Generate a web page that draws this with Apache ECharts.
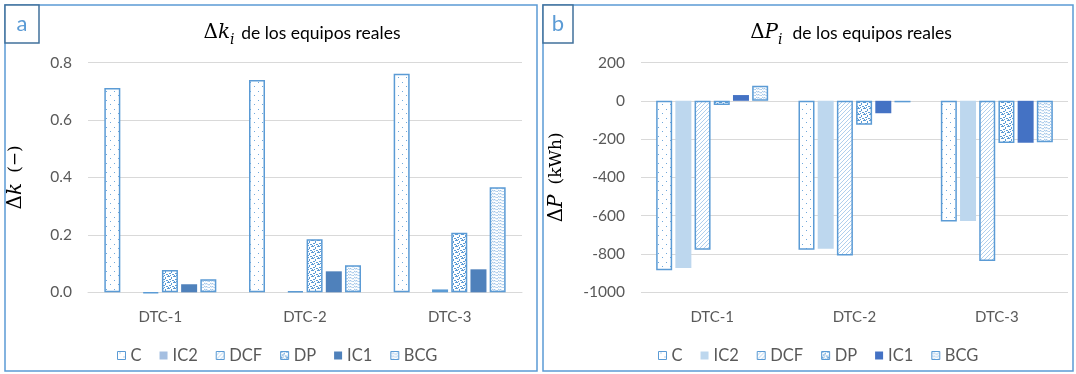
<!DOCTYPE html>
<html>
<head>
<meta charset="utf-8">
<script src="https://cdn.jsdelivr.net/npm/echarts@6/dist/echarts.min.js"></script>
<style>
html,body{margin:0;padding:0;background:#fff;}
#chart{width:1076px;height:374px;}
</style>
</head>
<body>
<div id="chart"></div>
<script>
// ---- data ----
const categories = ['DTC-1', 'DTC-2', 'DTC-3'];
const seriesNames = ['C', 'IC2', 'DCF', 'DP', 'IC1', 'BCG'];
// panel a: Δk (−)
const dk_C   = [0.711, 0.739, 0.761];
const dk_IC2 = [0, 0, 0];
const dk_DCF = [-0.003, 0.003, 0.010];
const dk_DP  = [0.078, 0.185, 0.207];
const dk_IC1 = [0.028, 0.073, 0.080];
const dk_BCG = [0.045, 0.094, 0.366];
// panel b: ΔP (kWh)
const dp_C   = [-885, -778, -630];
const dp_IC2 = [-873, -773, -628];
const dp_DCF = [-778, -808, -837];
const dp_DP  = [-22, -125, -220];
const dp_IC1 = [30, -65, -219];
const dp_BCG = [78, -8, -216];
// axis ticks
const dkAxis = {min: 0, max: 0.8, interval: 0.2};
const dpAxis = {min: -1000, max: 200, interval: 200};

// ---- patterns ----
const LINE = '#5b9bd5';
function tile(w, h, draw) {
  const c = document.createElement('canvas');
  c.width = w; c.height = h;
  const ctx = c.getContext('2d');
  ctx.fillStyle = '#ffffff';
  ctx.fillRect(0, 0, w, h);
  draw(ctx);
  return {image: c, repeat: 'repeat'};
}
function patC(col) {
  return tile(8, 9, ctx => {
    ctx.fillStyle = col;
    ctx.fillRect(2, 1, 1, 1);
    ctx.fillRect(6, 5, 1, 1);
  });
}
function patDCF(col) {
  return tile(4, 4, ctx => {
    ctx.strokeStyle = col; ctx.lineWidth = 0.8;
    ctx.beginPath();
    ctx.moveTo(-1, 5); ctx.lineTo(5, -1);
    ctx.moveTo(-1, 1); ctx.lineTo(1, -1);
    ctx.moveTo(3, 5); ctx.lineTo(5, 3);
    ctx.stroke();
  });
}
function patDP(col) {
  return tile(6, 6, ctx => {
    ctx.fillStyle = col;
    ctx.fillRect(0, 0, 2, 1);
    ctx.fillRect(3, 1, 1, 2);
    ctx.fillRect(1, 3, 2, 1);
    ctx.fillRect(4, 4, 2, 1);
    ctx.fillRect(5, 0, 1, 1);
    ctx.fillRect(0, 5, 1, 1);
    ctx.fillRect(2, 5, 1, 1);
  });
}
function patBCG(col) {
  return tile(6, 6, ctx => {
    ctx.strokeStyle = col; ctx.lineWidth = 0.8;
    ctx.beginPath();
    ctx.moveTo(0, 1); ctx.lineTo(1.5, 2); ctx.lineTo(3, 1.5); ctx.lineTo(4.5, 3); ctx.lineTo(6, 2.5);
    ctx.moveTo(0, 4); ctx.lineTo(1.5, 5); ctx.lineTo(3, 4.5); ctx.lineTo(4.5, 6); ctx.lineTo(6, 5.5);
    ctx.stroke();
  });
}

function styles(ic2, ic1) {
  const b = {borderColor: LINE, borderWidth: 1.5};
  return [
    Object.assign({color: patC('#6fa8dc')}, b),
    {color: ic2},
    Object.assign({color: patDCF('#9cc3e8')}, b),
    Object.assign({color: patDP('#5b9bd5')}, b),
    {color: ic1},
    Object.assign({color: patBCG('#7fb0df')}, b)
  ];
}
const leftStyles = styles('#a5bfe1', '#4f81bb');
const rightStyles = styles('#bdd7ee', '#4472c4');

const dkData = [dk_C, dk_IC2, dk_DCF, dk_DP, dk_IC1, dk_BCG];
const dpData = [dp_C, dp_IC2, dp_DCF, dp_DP, dp_IC1, dp_BCG];

const FONT = 'Lato, "Open Sans", sans-serif';
const MATH = '"DejaVu Serif", "Liberation Serif", serif';
const GRAY = '#595959';

const series = [];
seriesNames.forEach((n, i) => {
  series.push({
    name: n, type: 'bar', xAxisIndex: 0, yAxisIndex: 0,
    data: dkData[i], barWidth: 16, barGap: '20%', clip: false,
    itemStyle: leftStyles[i]
  });
});
seriesNames.forEach((n, i) => {
  series.push({
    name: n + ' ', type: 'bar', xAxisIndex: 1, yAxisIndex: 1,
    data: dpData[i], barWidth: 16, barGap: '20%', clip: false,
    itemStyle: rightStyles[i]
  });
});

const mathRich = {
  d: {fontFamily: MATH, fontSize: 20, color: '#000', verticalAlign: 'middle', lineHeight: 28},
  k: {fontFamily: MATH, fontSize: 20, fontStyle: 'italic', color: '#000', verticalAlign: 'middle', lineHeight: 28},
  s: {fontFamily: MATH, fontSize: 14, fontStyle: 'italic', color: '#000', verticalAlign: 'bottom', lineHeight: 28},
  t: {fontFamily: FONT, fontSize: 17.5, color: GRAY, verticalAlign: 'middle', lineHeight: 28}
};
const nameRich = {
  d: {fontFamily: MATH, fontSize: 20, color: '#000'},
  k: {fontFamily: MATH, fontSize: 20, fontStyle: 'italic', color: '#000'},
  u: {fontFamily: MATH, fontSize: 17, color: '#000'}
};

function xAx(gi) {
  return {
    type: 'category', gridIndex: gi, data: categories, position: 'bottom',
    axisLine: {show: gi === 0, onZero: false, lineStyle: {color: '#d9d9d9', width: 1}},
    axisTick: {show: false},
    axisLabel: {color: GRAY, fontFamily: FONT, fontSize: 15, margin: 17}
  };
}
function yAx(gi, ax, fmt, name, gap) {
  return {
    type: 'value', gridIndex: gi, min: ax.min, max: ax.max, interval: ax.interval,
    axisLine: {show: false}, axisTick: {show: false},
    splitLine: {lineStyle: {color: '#d9d9d9', width: 1}},
    axisLabel: {color: GRAY, fontFamily: FONT, fontSize: 15.5, margin: 16, formatter: fmt},
    name: name, nameLocation: 'middle', nameRotate: 90, nameGap: gap,
    nameTextStyle: {rich: nameRich}
  };
}

const option = {
  animation: false,
  backgroundColor: '#ffffff',
  grid: [
    {left: 88, top: 62.5, width: 434, height: 229.8, containLabel: false},
    {left: 641, top: 62.5, width: 427, height: 229.8, containLabel: false}
  ],
  xAxis: [xAx(0), xAx(1)],
  yAxis: [
    yAx(0, dkAxis, v => v.toFixed(1), '{d|Δ}{k|k}   {u|(−)}', 62),
    yAx(1, dpAxis, v => String(v), '{d|Δ}{k|P}   {u|(kWh)}', 74)
  ],
  legend: [
    {
      data: seriesNames, left: 112, top: 342, itemWidth: 8, itemHeight: 8, itemGap: 18,
      icon: 'rect', textStyle: {color: GRAY, fontFamily: FONT, fontSize: 16.5},
      itemStyle: {borderWidth: 1}
    },
    {
      data: seriesNames.map(n => n + ' '), left: 653, top: 342, itemWidth: 8, itemHeight: 8, itemGap: 18,
      icon: 'rect', textStyle: {color: GRAY, fontFamily: FONT, fontSize: 16.5},
      itemStyle: {borderWidth: 1},
      formatter: n => n.trim()
    }
  ],
  graphic: [
    {type: 'rect', shape: {x: 5, y: 5, width: 532, height: 366}, style: {fill: 'none', stroke: '#5b9bd5', lineWidth: 1.5}, silent: true},
    {type: 'rect', shape: {x: 543, y: 5, width: 530, height: 366}, style: {fill: 'none', stroke: '#5b9bd5', lineWidth: 1.5}, silent: true},
    {type: 'rect', shape: {x: 5, y: 5, width: 34, height: 38}, style: {fill: '#fff', stroke: '#41719c', lineWidth: 1.5}, silent: true},
    {type: 'rect', shape: {x: 543, y: 5, width: 30, height: 38}, style: {fill: '#fff', stroke: '#41719c', lineWidth: 1.5}, silent: true},
    {type: 'text', style: {x: 22, y: 24, text: 'a', font: '22px ' + FONT, fill: '#5b9bd5', align: 'center', verticalAlign: 'middle'}},
    {type: 'text', style: {x: 558, y: 24, text: 'b', font: '22px ' + FONT, fill: '#5b9bd5', align: 'center', verticalAlign: 'middle'}},
    {type: 'text', style: {x: 302, y: 33, text: '{d|Δ}{k|k}{s|i}  {t|de los equipos reales}', rich: mathRich, align: 'center', verticalAlign: 'middle'}},
    {type: 'text', style: {x: 851, y: 33, text: '{d|Δ}{k|P}{s|i}   {t|de los equipos reales}', rich: mathRich, align: 'center', verticalAlign: 'middle'}}
  ],
  series: series
};

const chart = echarts.init(document.getElementById('chart'), null, {renderer: 'canvas'});
chart.setOption(option);
</script>
</body>
</html>
